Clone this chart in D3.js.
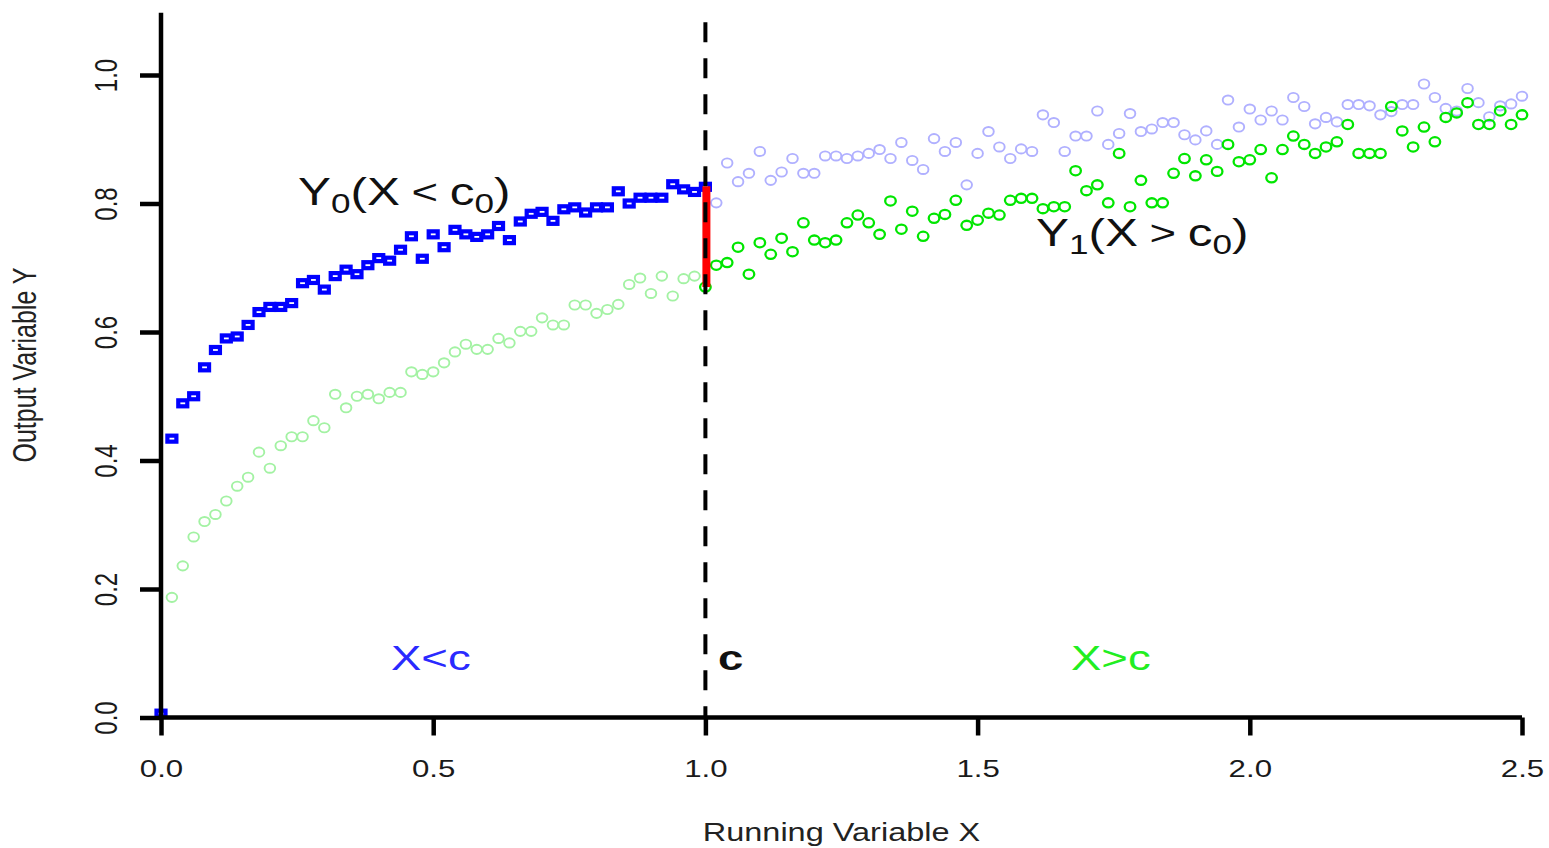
<!DOCTYPE html>
<html><head><meta charset="utf-8">
<script src="https://cdn.jsdelivr.net/npm/d3@7"></script>
<style>html,body{margin:0;padding:0;background:#fff;overflow:hidden}</style>
</head><body>
<svg id="chart" width="1549" height="848"></svg>
<script>
// ---------- data ----------
const xBlue = [0,0.02,0.04,0.06,0.08,0.1,0.12,0.14,0.16,0.18,0.2,0.22,0.24,0.26,0.28,0.3,0.32,0.34,0.36,0.38,0.4,0.42,0.44,0.46,0.48,0.5,0.52,0.54,0.56,0.58,0.6,0.62,0.64,0.66,0.68,0.7,0.72,0.74,0.76,0.78,0.8,0.82,0.84,0.86,0.88,0.9,0.92,0.94,0.96,0.98,1.0];
const blueY = [0.006,0.434,0.489,0.500,0.545,0.572,0.590,0.593,0.611,0.631,0.639,0.639,0.645,0.676,0.681,0.666,0.687,0.697,0.690,0.704,0.715,0.711,0.728,0.749,0.714,0.752,0.732,0.759,0.752,0.748,0.752,0.765,0.743,0.772,0.784,0.787,0.773,0.791,0.794,0.786,0.794,0.794,0.819,0.800,0.809,0.809,0.809,0.830,0.822,0.818,0.826];

const xLightGreen = [0.02,0.04,0.06,0.08,0.1,0.12,0.14,0.16,0.18,0.2,0.22,0.24,0.26,0.28,0.3,0.32,0.34,0.36,0.38,0.4,0.42,0.44,0.46,0.48,0.5,0.52,0.54,0.56,0.58,0.6,0.62,0.64,0.66,0.68,0.7,0.72,0.74,0.76,0.78,0.8,0.82,0.84,0.86,0.88,0.9,0.92,0.94,0.96,0.98];
const lightGreenY = [0.187,0.236,0.281,0.305,0.316,0.337,0.360,0.374,0.413,0.388,0.423,0.437,0.437,0.462,0.451,0.503,0.482,0.500,0.503,0.496,0.506,0.506,0.538,0.534,0.538,0.552,0.569,0.581,0.573,0.573,0.590,0.583,0.601,0.601,0.622,0.611,0.611,0.642,0.642,0.629,0.635,0.643,0.674,0.684,0.660,0.687,0.656,0.683,0.687];

const xGreen = [1.0,1.02,1.04,1.06,1.08,1.1,1.12,1.14,1.16,1.18,1.2,1.22,1.24,1.26,1.28,1.3,1.32,1.34,1.36,1.38,1.4,1.42,1.44,1.46,1.48,1.5,1.52,1.54,1.56,1.58,1.6,1.62,1.64,1.66,1.68,1.7,1.72,1.74,1.76,1.78,1.8,1.82,1.84,1.86,1.88,1.9,1.92,1.94,1.96,1.98,2.0,2.02,2.04,2.06,2.08,2.1,2.12,2.14,2.16,2.18,2.2,2.22,2.24,2.26,2.28,2.3,2.32,2.34,2.36,2.38,2.4,2.42,2.44,2.46,2.48,2.5];
const greenY = [0.670,0.704,0.708,0.732,0.690,0.739,0.721,0.746,0.725,0.770,0.743,0.739,0.743,0.770,0.782,0.770,0.752,0.804,0.760,0.788,0.749,0.777,0.783,0.805,0.766,0.774,0.785,0.782,0.805,0.808,0.808,0.792,0.795,0.795,0.851,0.820,0.829,0.801,0.878,0.795,0.836,0.801,0.801,0.847,0.870,0.843,0.868,0.850,0.892,0.865,0.868,0.884,0.840,0.884,0.905,0.892,0.878,0.888,0.896,0.923,0.878,0.878,0.878,0.951,0.913,0.888,0.919,0.896,0.934,0.941,0.957,0.923,0.923,0.944,0.923,0.938];

const xLightBlue = [1.02,1.04,1.06,1.08,1.1,1.12,1.14,1.16,1.18,1.2,1.22,1.24,1.26,1.28,1.3,1.32,1.34,1.36,1.38,1.4,1.42,1.44,1.46,1.48,1.5,1.52,1.54,1.56,1.58,1.6,1.62,1.64,1.66,1.68,1.7,1.72,1.74,1.76,1.78,1.8,1.82,1.84,1.86,1.88,1.9,1.92,1.94,1.96,1.98,2.0,2.02,2.04,2.06,2.08,2.1,2.12,2.14,2.16,2.18,2.2,2.22,2.24,2.26,2.28,2.3,2.32,2.34,2.36,2.38,2.4,2.42,2.44,2.46,2.48,2.5];
const lightBlueY = [0.801,0.863,0.834,0.847,0.881,0.836,0.849,0.870,0.847,0.847,0.874,0.874,0.870,0.874,0.878,0.884,0.870,0.895,0.867,0.853,0.901,0.881,0.895,0.829,0.878,0.912,0.888,0.870,0.885,0.881,0.938,0.926,0.881,0.905,0.905,0.944,0.892,0.909,0.940,0.912,0.916,0.926,0.926,0.907,0.899,0.913,0.892,0.961,0.919,0.947,0.930,0.944,0.930,0.965,0.951,0.924,0.934,0.927,0.954,0.954,0.952,0.938,0.943,0.954,0.954,0.986,0.965,0.948,0.944,0.979,0.957,0.935,0.952,0.955,0.967];

const cutoff = 1.0;
const jumpTop = 0.827;
const jumpBottom = 0.670;
const dashTop = 1.082;

const xTicks = [0, 0.5, 1, 1.5, 2, 2.5];
const xTickLabels = ['0.0','0.5','1.0','1.5','2.0','2.5'];
const yTicks = [0, 0.2, 0.4, 0.6, 0.8, 1.0];
const yTickLabels = ['0.0','0.2','0.4','0.6','0.8','1.0'];
const yAxisTop = 1.097;

// ---------- chart ----------
const FONT = '"Liberation Sans", Arial, Helvetica, sans-serif';
const SX = 1.3;
const svg = d3.select('#chart');
const x = d3.scaleLinear().domain([0, 2.5]).range([161, 1522]);
const y = d3.scaleLinear().domain([0, 1]).range([717.5, 75]);

function circles(xs, ys, color, sw) {
  svg.append('g').selectAll('ellipse').data(d3.zip(xs, ys)).join('ellipse')
    .attr('cx', d => x(d[0])).attr('cy', d => y(d[1]))
    .attr('rx', 5.3).attr('ry', 4.6)
    .attr('fill', 'none').attr('stroke', color).attr('stroke-width', sw);
}

circles(xLightGreen, lightGreenY, '#a3f2a3', 1.9);
circles(xLightBlue, lightBlueY, '#b0b0ff', 1.9);

svg.append('g').selectAll('rect').data(d3.zip(xBlue, blueY)).join('rect')
  .attr('x', d => x(d[0]) - 4.5).attr('y', d => y(d[1]) - 3)
  .attr('width', 9).attr('height', 6)
  .attr('fill', 'none').attr('stroke', '#0000ff').attr('stroke-width', 4.2);

circles(xGreen, greenY, '#00e600', 2.3);

// jump segment
svg.append('line')
  .attr('x1', x(cutoff) + 1).attr('x2', x(cutoff) + 1)
  .attr('y1', y(jumpTop)).attr('y2', y(jumpBottom))
  .attr('stroke', '#ff0000').attr('stroke-width', 8);

// cutoff dashed line
svg.append('line')
  .attr('x1', x(cutoff)).attr('x2', x(cutoff))
  .attr('y1', y(dashTop)).attr('y2', y(0))
  .attr('stroke', '#000').attr('stroke-width', 4)
  .attr('stroke-dasharray', '20,16');

// axes
const gx = svg.append('g').attr('transform', `translate(0,${y(0)})`)
  .call(d3.axisBottom(x).tickValues(xTicks).tickSize(18).tickSizeOuter(0)
    .tickFormat((d, i) => xTickLabels[i]));
gx.select('.domain').attr('stroke-width', 4.5).attr('d', `M${x(0)},0H${x(2.5)}`);
gx.selectAll('.tick line').attr('stroke-width', 4.5);
gx.selectAll('.tick text')
  .attr('y', 0).attr('dy', 0)
  .attr('transform', `translate(0,59.5) scale(${SX},1)`)
  .attr('fill', '#1a1a1a').style('font-family', FONT).style('font-size', '24px');

const gy = svg.append('g').attr('transform', `translate(${x(0)},0)`)
  .call(d3.axisLeft(y).tickValues(yTicks).tickSize(21).tickSizeOuter(0)
    .tickFormat((d, i) => yTickLabels[i]));
gy.select('.domain').attr('stroke-width', 4.5).attr('d', `M0,${y(0)}V${y(yAxisTop)}`);
gy.selectAll('.tick line').attr('stroke-width', 4.5);
gy.selectAll('.tick text')
  .attr('x', 0).attr('dy', 0).attr('text-anchor', 'middle')
  .attr('transform', `translate(-44,0) scale(${SX},1) rotate(-90)`)
  .attr('fill', '#1a1a1a').style('font-family', FONT).style('font-size', '24px');
svg.selectAll('.domain, .tick line').attr('stroke', '#000');

// axis titles
svg.append('text')
  .attr('transform', `translate(${(x(0) + x(2.5)) / 2},841) scale(${SX},1)`)
  .attr('text-anchor', 'middle').attr('fill', '#222')
  .style('font-family', FONT).style('font-size', '25px')
  .text('Running Variable X');
svg.append('text')
  .attr('transform', `translate(36,365) scale(${SX},1) rotate(-90)`)
  .attr('text-anchor', 'middle').attr('fill', '#222')
  .style('font-family', FONT).style('font-size', '25px')
  .text('Output Variable Y');

// annotations
function annot(px, py, sub, op) {
  const t = svg.append('text')
    .attr('transform', `translate(${px},${py}) scale(${SX},1)`)
    .attr('fill', '#111').style('font-family', FONT).style('font-size', '38px');
  t.append('tspan').text('Y');
  t.append('tspan').attr('dy', 8).style('font-size', '27px').text(sub);
  t.append('tspan').attr('dy', -8).text('(X');
  t.append('tspan').attr('dx', 9).attr('dy', -1).style('font-size', '35px').text(op);
  t.append('tspan').attr('dx', 9).attr('dy', 1).text('c');
  t.append('tspan').attr('dy', 8).style('font-size', '27px').text('0');
  t.append('tspan').attr('dy', -8).text(')');
}
annot(298, 205, '0', '<');
annot(1036, 246, '1', '>');

function label(px, py, str, color, weight) {
  svg.append('text')
    .attr('transform', `translate(${px},${py}) scale(${SX},1)`)
    .attr('fill', color).style('font-family', FONT).style('font-size', '35px')
    .style('font-weight', weight || 'normal')
    .text(str);
}
label(391, 670, 'X<c', '#2a2aff');
label(718, 670, 'c', '#111', 'bold');
label(1071, 670, 'X>c', '#22ee22');
</script>
</body></html>
